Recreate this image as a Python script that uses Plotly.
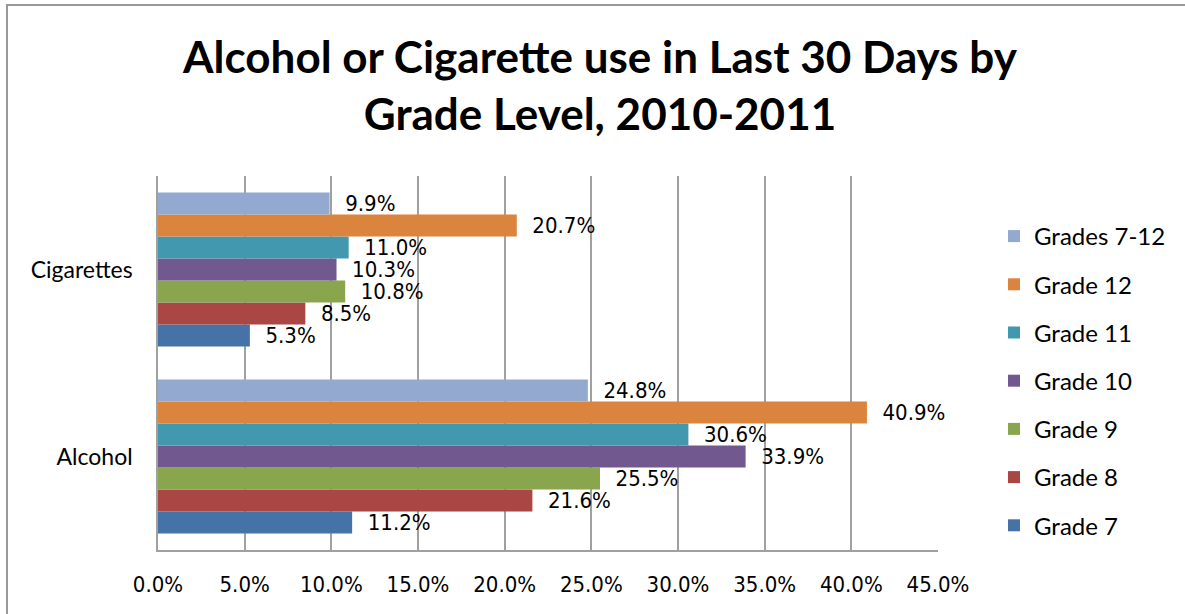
import plotly.graph_objects as go

categories = ["Alcohol", "Cigarettes"]
series_names = ["Grade 7", "Grade 8", "Grade 9", "Grade 10", "Grade 11", "Grade 12", "Grades 7-12"]
alcohol = [11.2, 21.6, 25.5, 33.9, 30.6, 40.9, 24.8]
cigarettes = [5.3, 8.5, 10.8, 10.3, 11.0, 20.7, 9.9]
colors = ["#4572A7", "#AA4643", "#89A54E", "#71588F", "#4198AF", "#DB843D", "#93A9CF"]
x_ticks = [0, 5, 10, 15, 20, 25, 30, 35, 40, 45]
x_tick_labels = [f"{v:.1f}%" for v in x_ticks]

W, H = 1185, 614
L, R, T, B = 158, 938, 176, 550
NUM_FONT = "DejaVu Sans Condensed, DejaVu Sans"

fig = go.Figure()
n = len(series_names)
for i, name in enumerate(series_names):
    vals = [alcohol[i], cigarettes[i]]
    fig.add_trace(go.Bar(
        y=categories, x=vals, name=name, orientation="h",
        marker=dict(color=colors[i], line=dict(width=0)),
        text=[f"\u00a0\u00a0{v:.1f}%" for v in vals],
        textposition="outside", constraintext="none", cliponaxis=False,
        textfont=dict(family=NUM_FONT, size=22, color="black"),
        legendgroup=name, legendrank=n - i,
    ))

def px_x(p):
    return (p - L) / (R - L)

def px_y(p):
    return (B - p) / (B - T)

fig.update_layout(
    width=W, height=H,
    margin=dict(l=L, r=W - R, t=T, b=H - B),
    paper_bgcolor="white", plot_bgcolor="white",
    barmode="group", bargap=0.176, bargroupgap=0,
    title=dict(
        text="<b>Alcohol or Cigarette use in Last 30 Days by<br>Grade Level, 2010-2011</b>",
        font=dict(family="Lato", size=44, color="black"),
        x=600 / W, xref="container", xanchor="center",
        y=1 - 73 / H, yref="container", yanchor="middle",
    ),
    xaxis=dict(
        range=[0, 45], tickvals=x_ticks, ticktext=x_tick_labels,
        showgrid=True, gridcolor="#A0A0A0", gridwidth=1.5,
        showline=True, linecolor="#A0A0A0", linewidth=1.5,
        zeroline=False, ticks="", ticklabelstandoff=14,
        tickfont=dict(family=NUM_FONT, size=22, color="black"),
        fixedrange=True,
    ),
    yaxis=dict(
        categoryorder="array", categoryarray=categories,
        showline=True, linecolor="#A0A0A0", linewidth=1.5,
        showgrid=False, ticks="", ticklabelstandoff=19,
        tickfont=dict(family="Lato", size=23, color="black"),
        fixedrange=True,
    ),
    legend=dict(
        x=px_x(994), xanchor="left", y=px_y(381), yanchor="middle",
        traceorder="grouped", tracegroupgap=14,
        font=dict(family="Lato", size=24, color="black"),
        bgcolor="rgba(0,0,0,0)",
    ),
    shapes=[dict(
        type="rect", xref="paper", yref="paper",
        x0=px_x(7), x1=px_x(1200), y0=px_y(630), y1=px_y(5),
        line=dict(color="#999999", width=2), layer="below",
    )],
)

fig.write_html("out.html", config={"displayModeBar": False},
               post_script="document.body.style.margin='0';")
